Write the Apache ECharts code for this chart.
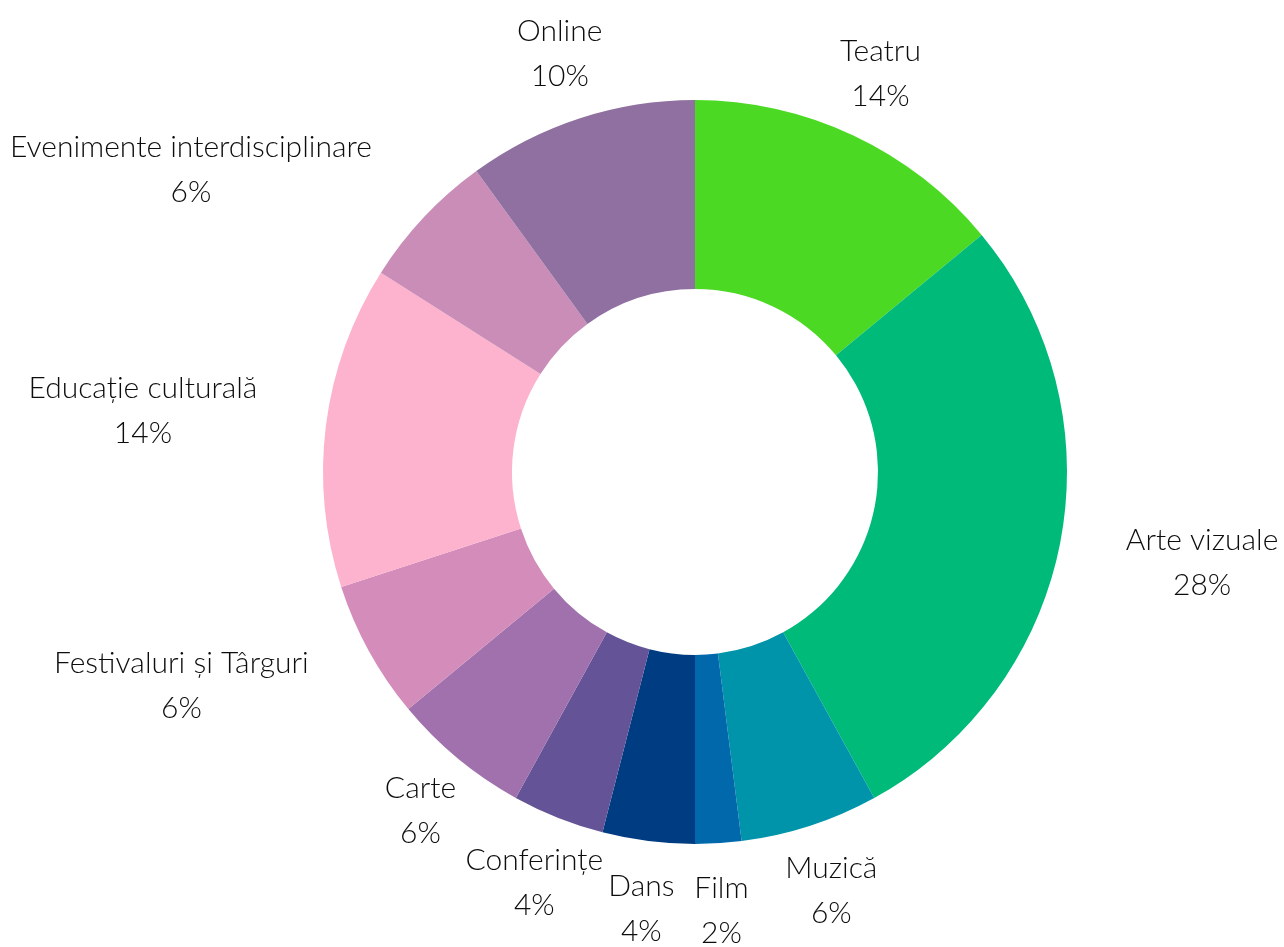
<!DOCTYPE html>
<html>
<head>
<meta charset="utf-8">
<title>Distribuția evenimentelor pe domenii</title>
<script src="https://cdn.jsdelivr.net/npm/echarts@6/dist/echarts.min.js"></script>
<style>
  html, body { margin: 0; padding: 0; background: #ffffff; }
  #chart { width: 1284px; height: 947px; }
</style>
</head>
<body>
<div id="chart"></div>
<script>
// Domains, clockwise from the top
const categories = [
  'Teatru', 'Arte vizuale', 'Muzică', 'Film', 'Dans', 'Conferințe',
  'Carte', 'Festivaluri și Târguri', 'Educație culturală',
  'Evenimente interdisciplinare', 'Online'
];
// Share of events per domain (%)
const shares = [14, 28, 6, 2, 4, 4, 6, 6, 14, 6, 10];

// Slice colours
const colors = [
  '#4cd924', '#00ba7a', '#0094aa', '#0068ab', '#003c82', '#645396',
  '#a071ad', '#d48cba', '#fdb3cd', '#c98db8', '#8f70a0'
];
// Label nudges: extra radial push and sideways (clockwise) shift, px
const labelPush  = [0, 45, 0, 0, 0, -2, 0, 50, 47, 62, 0];
const labelSlide = [0, 0, 0, 0, 0, -10, 0, 25, 0, -57, 0];

const CX = 695, CY = 472, R_IN = 183, R_OUT = 372, LABEL_R = 395;

const total = shares.reduce((a, b) => a + b, 0);
const midFrac = [];
let acc = 0;
shares.forEach(v => { midFrac.push((acc + v / 2) / total); acc += v; });

const chart = echarts.init(document.getElementById('chart'), null, { renderer: 'canvas' });

chart.setOption({
  backgroundColor: '#ffffff',
  animation: false,
  series: [{
    type: 'pie',
    center: [CX, CY],
    radius: [R_IN, R_OUT],
    startAngle: 90,
    clockwise: true,
    avoidLabelOverlap: false,
    itemStyle: { borderWidth: 0 },
    label: {
      show: true,
      position: 'outside',
      formatter: p => p.name + '\n' + p.value + '%',
      fontFamily: 'Lato',
      fontWeight: 300,
      fontSize: 30,
      lineHeight: 45,
      color: '#0d0d0d',
      align: 'center'
    },
    labelLine: { show: false },
    emphasis: { disabled: true },
    // Each label sits just outside the ring, along its slice's mid-angle
    labelLayout: params => {
      const i = params.dataIndex;
      const a = midFrac[i] * Math.PI * 2;
      const ux = Math.sin(a), uy = -Math.cos(a);
      const tx = Math.cos(a), ty = Math.sin(a);
      const w = params.labelRect.width, h = params.labelRect.height;
      const d = LABEL_R + labelPush[i];
      const s = labelSlide[i];
      return {
        x: CX + d * ux + ux * w / 2 + s * tx,
        y: CY + d * uy + uy * h / 2 + s * ty,
        align: 'center',
        verticalAlign: 'middle',
        hideOverlap: false
      };
    },
    data: categories.map((name, i) => ({
      name, value: shares[i], itemStyle: { color: colors[i] }
    }))
  }]
});
</script>
</body>
</html>
